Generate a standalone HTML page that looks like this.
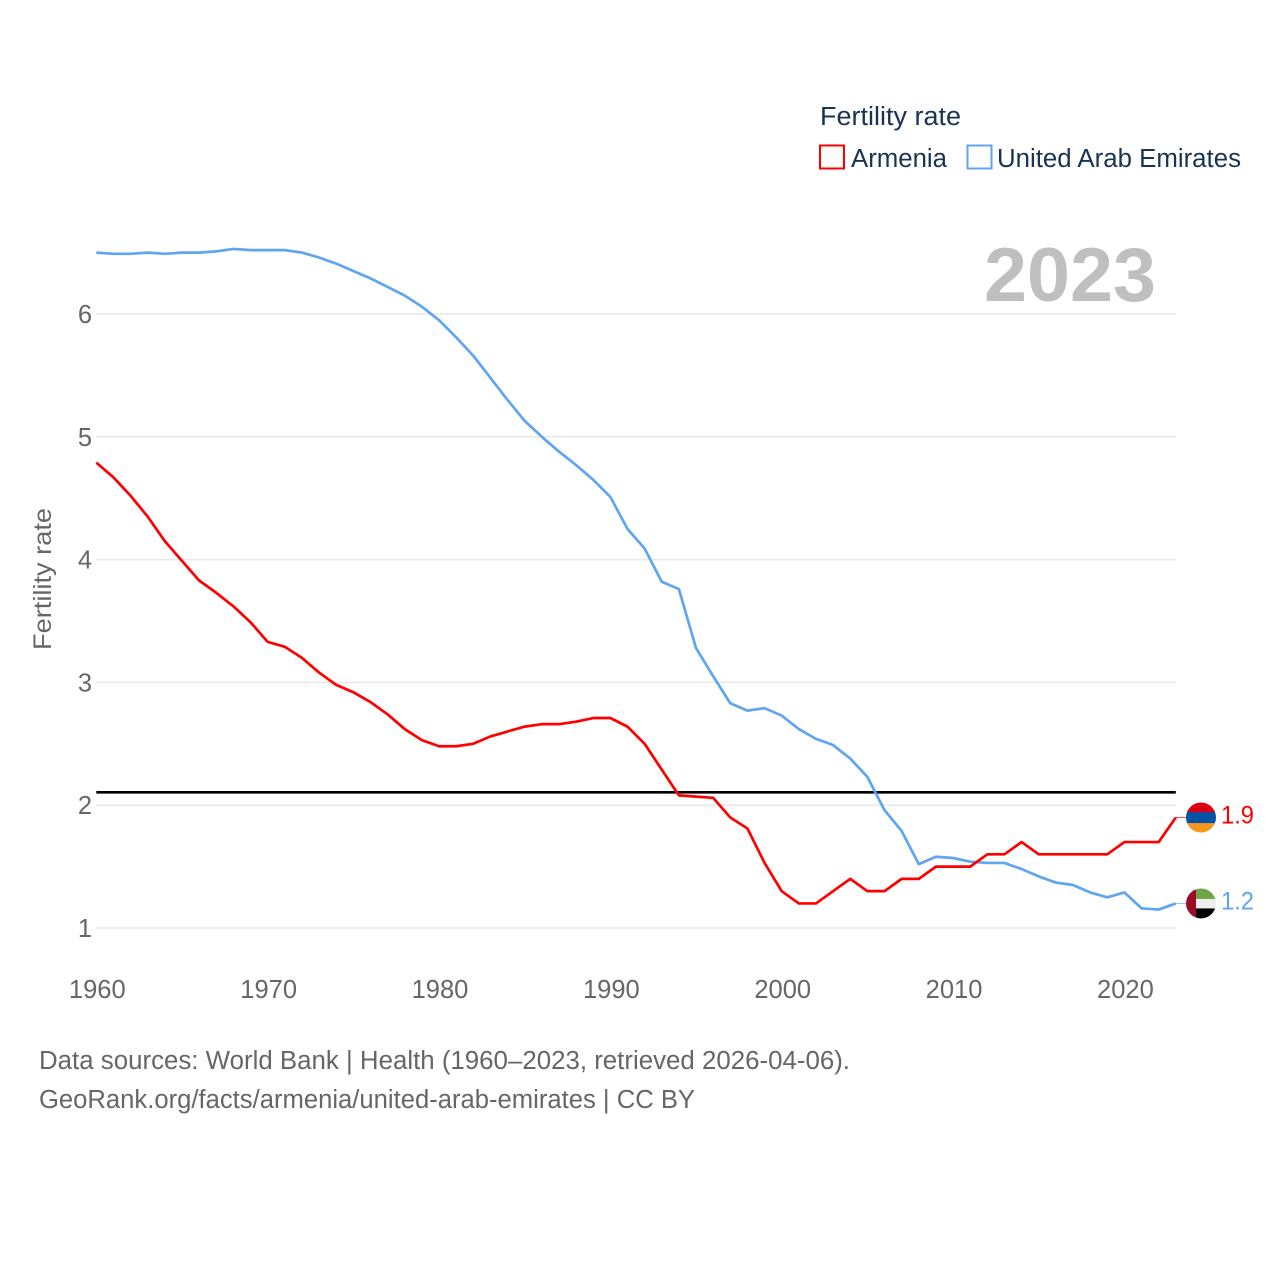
<!DOCTYPE html>
<html lang="en">
<head>
<meta charset="utf-8">
<title>Fertility rate: Armenia and United Arab Emirates</title>
<style>
html,body{margin:0;padding:0;background:#fff;width:1280px;height:1280px;overflow:hidden}
svg{display:block}
text{font-family:"Liberation Sans",sans-serif}
</style>
</head>
<body>
<svg id="chart" xmlns="http://www.w3.org/2000/svg" width="1280" height="1280" viewBox="0 0 1280 1280">
  <rect x="0" y="0" width="1280" height="1280" fill="#fff"/>
  <g id="grid"></g>
  <g id="yticks"></g>
  <g id="xticks"></g>
  <text transform="translate(51 579) rotate(-90)" text-anchor="middle" font-size="25" fill="#666" textLength="142" lengthAdjust="spacingAndGlyphs">Fertility rate</text>
  <text x="984" y="301" font-size="76" font-weight="700" fill="#bfbfbf" textLength="172" lengthAdjust="spacingAndGlyphs">2023</text>
  <g id="series"></g>
  <g id="ends"></g>
  <g>
    <text x="820" y="125" font-size="25.5" fill="#1a3353" textLength="141" lengthAdjust="spacingAndGlyphs">Fertility rate</text>
    <g>
      <rect x="820" y="145.5" width="24" height="23" fill="#fff" stroke="#ff0000" stroke-width="2"/>
      <text x="851" y="167" font-size="25.5" fill="#1a3353" textLength="96" lengthAdjust="spacingAndGlyphs">Armenia</text>
    </g>
    <g>
      <rect x="967.5" y="145.5" width="24" height="23" fill="#fff" stroke="#60a5f0" stroke-width="2"/>
      <text x="997" y="167" font-size="25.5" fill="#1a3353" textLength="244" lengthAdjust="spacingAndGlyphs">United Arab Emirates</text>
    </g>
  </g>
  <text x="39" y="1069" font-size="25.5" fill="#666" textLength="811" lengthAdjust="spacingAndGlyphs">Data sources: World Bank | Health (1960–2023, retrieved 2026-04-06).</text>
  <text x="39" y="1108" font-size="25.5" fill="#666" textLength="656" lengthAdjust="spacingAndGlyphs">GeoRank.org/facts/armenia/united-arab-emirates | CC BY</text>
</svg>
<script>
const startYear = 1960;
const xTickLabels = [1960, 1970, 1980, 1990, 2000, 2010, 2020];
const yTickLabels = [1, 2, 3, 4, 5, 6];
const replacementRate = [2.105];
const armeniaValues = [
  4.79,4.67,4.52,4.35,4.15,3.99,3.83,3.73,3.62,3.49,
  3.33,3.29,3.20,3.08,2.98,2.92,2.84,2.74,2.62,2.53,
  2.48,2.48,2.50,2.56,2.60,2.64,2.66,2.66,2.68,2.71,
  2.71,2.64,2.50,2.29,2.08,2.07,2.06,1.90,1.81,1.53,
  1.30,1.20,1.20,1.30,1.40,1.30,1.30,1.40,1.40,1.50,
  1.50,1.50,1.60,1.60,1.70,1.60,1.60,1.60,1.60,1.60,
  1.70,1.70,1.70,1.90
];
const uaeValues = [
  6.50,6.49,6.49,6.50,6.49,6.50,6.50,6.51,6.53,6.52,
  6.52,6.52,6.50,6.46,6.41,6.35,6.29,6.22,6.15,6.06,
  5.95,5.81,5.66,5.48,5.30,5.13,5.00,4.88,4.77,4.65,
  4.51,4.25,4.09,3.82,3.76,3.28,3.05,2.83,2.77,2.79,
  2.73,2.62,2.54,2.49,2.38,2.23,1.96,1.79,1.52,1.58,
  1.57,1.54,1.53,1.53,1.48,1.42,1.37,1.35,1.29,1.25,
  1.29,1.16,1.15,1.20
];

const NS = 'http://www.w3.org/2000/svg';
function xScale(year) { return 96.3 + (year - 1960) * 17.135; }
function yScale(value) { return 928 - (value - 1) * 122.8; }
function make(tag, attrs, parent) {
  const el = document.createElementNS(NS, tag);
  for (const k in attrs) el.setAttribute(k, attrs[k]);
  parent.appendChild(el);
  return el;
}
function pointsFor(values) {
  return values.map((v, i) => xScale(startYear + i).toFixed(2) + ',' + yScale(v).toFixed(2)).join(' ');
}

const grid = document.getElementById('grid');
const yticks = document.getElementById('yticks');
const xticks = document.getElementById('xticks');
const series = document.getElementById('series');
const ends = document.getElementById('ends');

yTickLabels.forEach(v => {
  const line = make('line', {x1: 96, x2: 1176, y1: yScale(v), y2: yScale(v), stroke: '#e8e8e8', 'stroke-width': 1.5}, grid);
  
  
  const label = make('text', {x: 92, y: yScale(v) + 9, 'text-anchor': 'end', 'font-size': 25.5, fill: '#666'}, yticks);
  
  
  label.textContent = v;
});

xTickLabels.forEach(y => {
  const label = make('text', {x: xScale(y) + 1, y: 998, 'text-anchor': 'middle', 'font-size': 25.5, fill: '#666'}, xticks);
  
  
  label.textContent = y;
});

const lastYear = startYear + armeniaValues.length - 1;

const refLine = make('line', {x1: xScale(startYear), x2: xScale(lastYear), y1: yScale(replacementRate[0]), y2: yScale(replacementRate[0]), stroke: '#000', 'stroke-width': 2.6}, series);



const uaeLine = make('polyline', {points: pointsFor(uaeValues), fill: 'none', stroke: '#60a5f0', 'stroke-width': 2.7, 'stroke-linejoin': 'round'}, series);



const armeniaLine = make('polyline', {points: pointsFor(armeniaValues), fill: 'none', stroke: '#ff0000', 'stroke-width': 2.7, 'stroke-linejoin': 'round'}, series);



function drawEnd(values, color, slug, bands) {
  const last = values[values.length - 1];
  const x = xScale(lastYear);
  const y = yScale(last);
  const connector = make('line', {x1: x, x2: x + 12, y1: y, y2: y, stroke: color, 'stroke-width': 1, opacity: 0.7}, ends);
  
  
  const cx = 1201;
  const cy = y;
  const id = 'clip-' + slug;
  const defs = make('defs', {}, ends);
  const clip = make('clipPath', {id: id}, defs);
  make('circle', {cx: cx, cy: cy, r: 15}, clip);
  const flag = make('g', {'clip-path': 'url(#' + id + ')'}, ends);
  
  
  bands(flag, cx, cy);
  const label = make('text', {x: 1221, y: y + 6, 'font-size': 25, fill: color, textLength: 33, lengthAdjust: 'spacingAndGlyphs'}, ends);
  
  
  label.textContent = last.toFixed(1);
}

drawEnd(armeniaValues, '#ff0000', 'armenia', (g, cx, cy) => {
  make('rect', {x: cx - 15, y: cy - 15, width: 30, height: 10, fill: '#d90012'}, g);
  make('rect', {x: cx - 15, y: cy + 5.5, width: 30, height: 10, fill: '#f7981d'}, g);
  make('rect', {x: cx - 15, y: cy - 5.2, width: 30, height: 10.8, fill: '#0053a5'}, g);
});
drawEnd(uaeValues, '#60a5f0', 'united-arab-emirates', (g, cx, cy) => {
  make('rect', {x: cx - 5, y: cy - 15, width: 20, height: 10.7, fill: '#6fa544'}, g);
  make('rect', {x: cx - 5, y: cy - 4.5, width: 20, height: 9.7, fill: '#eeeeee'}, g);
  make('rect', {x: cx - 5, y: cy + 5, width: 20, height: 10, fill: '#000'}, g);
  make('rect', {x: cx - 15, y: cy - 15, width: 10, height: 30, fill: '#9b0d26'}, g);
});
</script>
</body>
</html>
